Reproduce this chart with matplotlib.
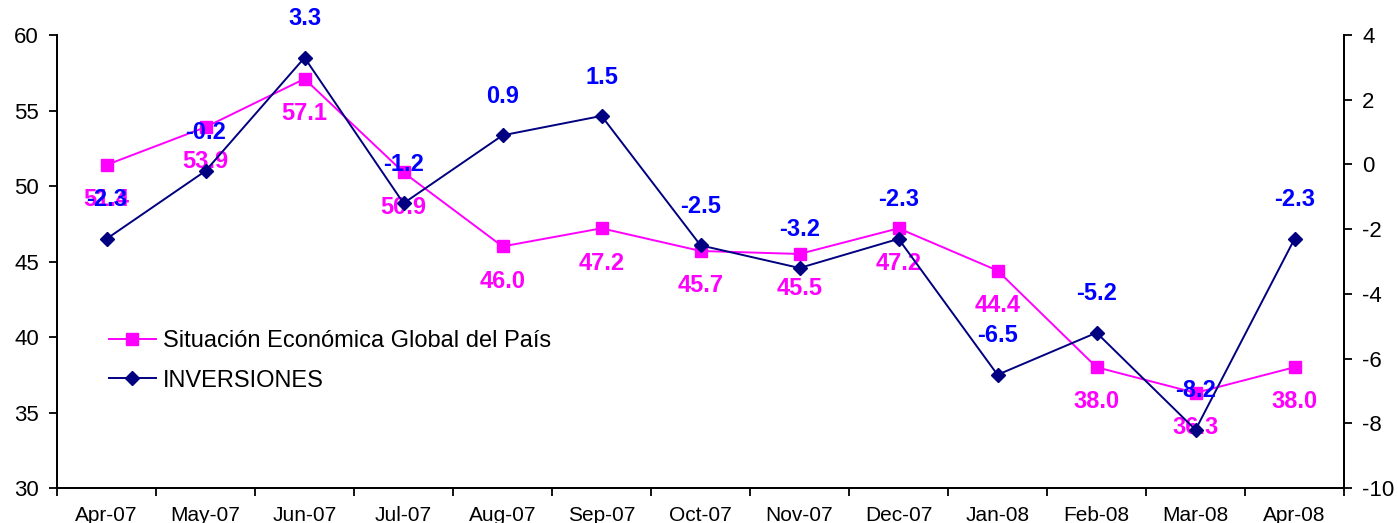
import matplotlib.pyplot as plt
import numpy as np

plt.rcParams['font.family'] = ['Liberation Sans', 'DejaVu Sans']
plt.rcParams['axes.unicode_minus'] = False

months = ['Apr-07', 'May-07', 'Jun-07', 'Jul-07', 'Aug-07', 'Sep-07', 'Oct-07',
          'Nov-07', 'Dec-07', 'Jan-08', 'Feb-08', 'Mar-08', 'Apr-08']
situacion = [51.4, 53.9, 57.1, 50.9, 46.0, 47.2, 45.7, 45.5, 47.2, 44.4, 38.0, 36.3, 38.0]
inversiones = [-2.3, -0.2, 3.3, -1.2, 0.9, 1.5, -2.5, -3.2, -2.3, -6.5, -5.2, -8.2, -2.3]

magenta = '#FF00FF'
navy = '#000080'
blue = '#0000FF'

fig = plt.figure(figsize=(13.98, 5.23), dpi=100)
ax = fig.add_axes([0.0408, 0.0669, 0.9206, 0.8661])
ax2 = ax.twinx()

x = np.arange(len(months))

l1, = ax.plot(x, situacion, color=magenta, lw=1.4, marker='s', ms=8.5,
              label='Situación Económica Global del País')
l2, = ax2.plot(x, inversiones, color=navy, lw=1.4, marker='D', ms=7,
               label='INVERSIONES')

for xi, v in zip(x, situacion):
    ax.annotate('%.1f' % v, (xi, v), xytext=(0, -25), textcoords='offset points',
                ha='center', va='center', color=magenta, fontsize=17, fontweight='bold')
for xi, v in zip(x, inversiones):
    ax2.annotate('%.1f' % v, (xi, v), xytext=(0, 28), textcoords='offset points',
                 ha='center', va='center', color=blue, fontsize=17, fontweight='bold')

ax.set_xlim(-0.5, len(months) - 0.5)
ax.set_ylim(30, 60)
ax.set_yticks(range(30, 61, 5))
ax2.set_ylim(-10, 4)
ax2.set_yticks(range(-10, 5, 2))

ax.set_xticks(x)
ax.set_xticklabels(months, fontsize=15)
ax.set_xticks(np.arange(-0.5, len(months), 1), minor=True)
ax.tick_params(axis='x', which='major', length=0, pad=13)
ax.tick_params(axis='x', which='minor', length=6, width=1.3)
ax.tick_params(axis='y', labelsize=16, length=6, width=1.3, pad=7)
ax2.tick_params(axis='y', labelsize=16, length=6, width=1.3, pad=7)

for a in (ax, ax2):
    a.spines['top'].set_visible(False)
    for s in ('left', 'right', 'bottom'):
        a.spines[s].set_linewidth(1.3)

fig.legend(handles=[l1, l2], loc='upper left', bbox_to_anchor=(0.071, 0.387),
           frameon=False, fontsize=17, handlelength=2.0, handletextpad=0.3,
           labelspacing=0.75, borderaxespad=0)

fig.savefig('out.png', dpi=100)
